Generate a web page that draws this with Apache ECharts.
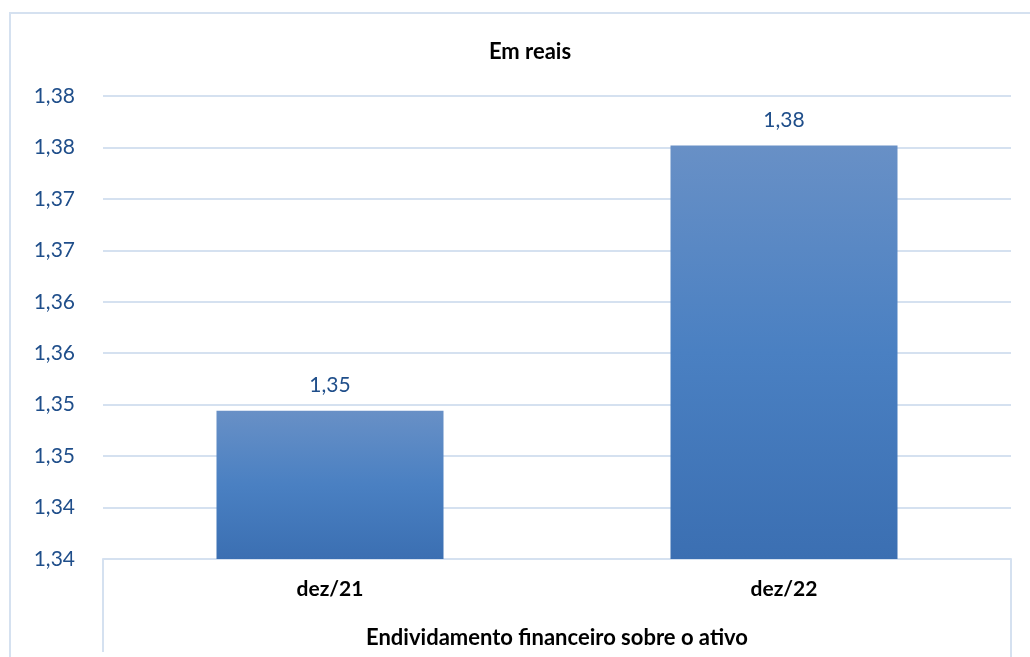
<!DOCTYPE html>
<html>
<head>
<meta charset="utf-8">
<script src="https://cdn.jsdelivr.net/npm/echarts@6/dist/echarts.min.js"></script>
<style>
  html, body { margin: 0; padding: 0; background: #ffffff; }
  #chart { width: 1030px; height: 657px; }
</style>
</head>
<body>
<div id="chart"></div>
<script>
// Financial debt over assets, in reais
const categories = ['dez/21', 'dez/22'];
const values = [1.3544, 1.3802];
const tickLabels = ['1,34', '1,34', '1,35', '1,35', '1,36', '1,36', '1,37', '1,37', '1,38', '1,38'];
const titleText = 'Em reais';
const axisTitle = 'Endividamento financeiro sobre o ativo';

const FONT = 'Lato, "Open Sans", sans-serif';
const BLUE_TEXT = '#1f4e8a';
const LINE = '#d5e1f0';
const Y_MIN = 1.34, Y_STEP = 0.005;

const chart = echarts.init(document.getElementById('chart'), null, { renderer: 'canvas' });

chart.setOption({
  backgroundColor: '#ffffff',
  animation: false,
  title: {
    text: titleText,
    left: 525, top: 36,
    textAlign: 'center',
    textStyle: { fontFamily: FONT, fontSize: 22, fontWeight: 'bold', color: '#000000' }
  },
  grid: { left: 103, right: 19, top: 96, bottom: 98, containLabel: false },
  xAxis: {
    type: 'category',
    data: categories,
    axisLine: { show: true, lineStyle: { color: LINE, width: 2 } },
    axisTick: { show: false },
    axisLabel: { fontFamily: FONT, fontSize: 21, fontWeight: 'bold', color: '#000000', margin: 20 },
    name: axisTitle,
    nameLocation: 'middle',
    nameGap: 68,
    nameTextStyle: { fontFamily: FONT, fontSize: 22, fontWeight: 'bold', color: '#000000' }
  },
  yAxis: {
    type: 'value',
    min: Y_MIN, max: 1.385, interval: Y_STEP,
    axisLine: { show: false },
    axisTick: { show: false },
    splitLine: { lineStyle: { color: LINE, width: 2 } },
    axisLabel: {
      fontFamily: FONT, fontSize: 21, color: BLUE_TEXT, margin: 28,
      formatter: function (v) {
        const i = Math.round((v - Y_MIN) / Y_STEP);
        return tickLabels[i] !== undefined ? tickLabels[i] : '';
      }
    }
  },
  series: [{
    type: 'bar',
    data: values,
    barWidth: '50%',
    itemStyle: {
      color: new echarts.graphic.LinearGradient(0, 0, 0, 1, [
        { offset: 0, color: '#6890c6' },
        { offset: 0.5, color: '#4a80c2' },
        { offset: 1, color: '#3b6fb2' }
      ])
    },
    label: {
      show: true,
      position: 'top',
      distance: 15,
      fontFamily: FONT, fontSize: 21, color: BLUE_TEXT,
      formatter: function (p) { return p.value.toFixed(2).replace('.', ','); }
    }
  }],
  graphic: [
    // outer chart frame
    { type: 'rect', shape: { x: 10, y: 13, width: 1030, height: 660 },
      style: { fill: 'none', stroke: LINE, lineWidth: 2 }, silent: true },
    // category table borders below the plot
    { type: 'line', shape: { x1: 103, y1: 559, x2: 103, y2: 652 },
      style: { stroke: LINE, lineWidth: 2 }, silent: true },
    { type: 'line', shape: { x1: 1011, y1: 559, x2: 1011, y2: 657 },
      style: { stroke: LINE, lineWidth: 2 }, silent: true }
  ]
});
</script>
</body>
</html>
